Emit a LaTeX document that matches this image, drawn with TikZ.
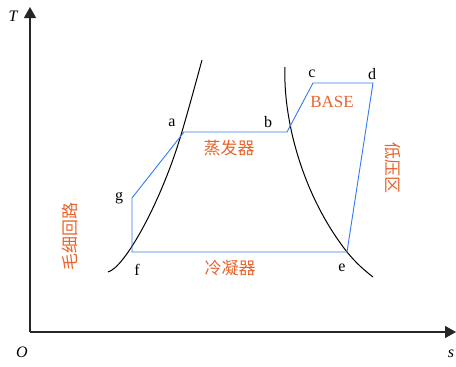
\documentclass[tikz,border=0pt]{standalone}
\usepackage{fontspec}
\setmainfont{Liberation Serif}
\newfontfamily\cjk{Noto Sans CJK SC}
\usetikzlibrary{arrows.meta}
\definecolor{cyc}{RGB}{47,123,245}
\definecolor{lab}{RGB}{232,100,44}
\begin{document}
\begin{tikzpicture}[x=1pt,y=-1pt,
  axis/.style={line width=1.3pt,draw=black!85,-{Triangle[width=12pt,length=11pt]}},
  sat/.style={line width=1pt,black},
  cycle/.style={line width=0.9pt,cyc},
  pt/.style={font=\rmfamily\fontsize{16}{16}\selectfont,inner sep=1pt},
  ax/.style={font=\rmfamily\itshape\fontsize{16}{16}\selectfont,inner sep=1pt},
  zh/.style={font=\fontsize{17}{17}\selectfont\cjk,text=lab,inner sep=1pt}]
\useasboundingbox (0,0) rectangle (456,367);
% axes
\coordinate (O) at (30,332);
\coordinate (Ty) at (30,7);
\coordinate (Sx) at (456,332);
\draw[axis] (O) -- (Ty);
\draw[axis] (O) -- (Sx);
\node[ax] (T) at (13,16) {T};
\node[ax] (Olab) at (22,352) {O};
\node[ax] (slab) at (451,354) {s};
% saturation curves
\draw[sat] (108,272) .. controls (124,268) and (160,205) .. (181,135) .. controls (189,108) and (196,82) .. (202,60);
\draw[sat] (285,67) .. controls (283,115) and (300,192) .. (347,252) .. controls (356,263) and (364,270) .. (373,277);
% cycle points
\coordinate (f) at (132,252);
\coordinate (g) at (132,198);
\coordinate (a) at (184,132);
\coordinate (b) at (287,132);
\coordinate (c) at (313,83);
\coordinate (d) at (373,83);
\coordinate (e) at (347,252);
\draw[cycle,line join=miter] (f) -- (g) -- (a) -- (b) -- (c) -- (d) -- (e) -- cycle;
% point labels
\node[pt] (la) at (172,123) {a};
\node[pt] (lb) at (268,122) {b};
\node[pt] (lc) at (312,74) {c};
\node[pt] (ld) at (372,74) {d};
\node[pt] (lg) at (119,198) {g};
\node[pt] (lf) at (137,270) {f};
\node[pt] (le) at (342,268) {e};
% region labels
\node[font=\rmfamily\fontsize{17}{17}\selectfont,text=lab,inner sep=1pt] (base) at (332,102) {BASE};
\node[zh] (evap) at (229,148) {蒸发器};
\node[zh] (cond) at (230,268) {冷凝器};
\node[zh,rotate=-90] (low) at (393,168) {低压区};
\node[zh,rotate=90] (cap) at (70,236) {毛细回路};
\end{tikzpicture}
\end{document}
